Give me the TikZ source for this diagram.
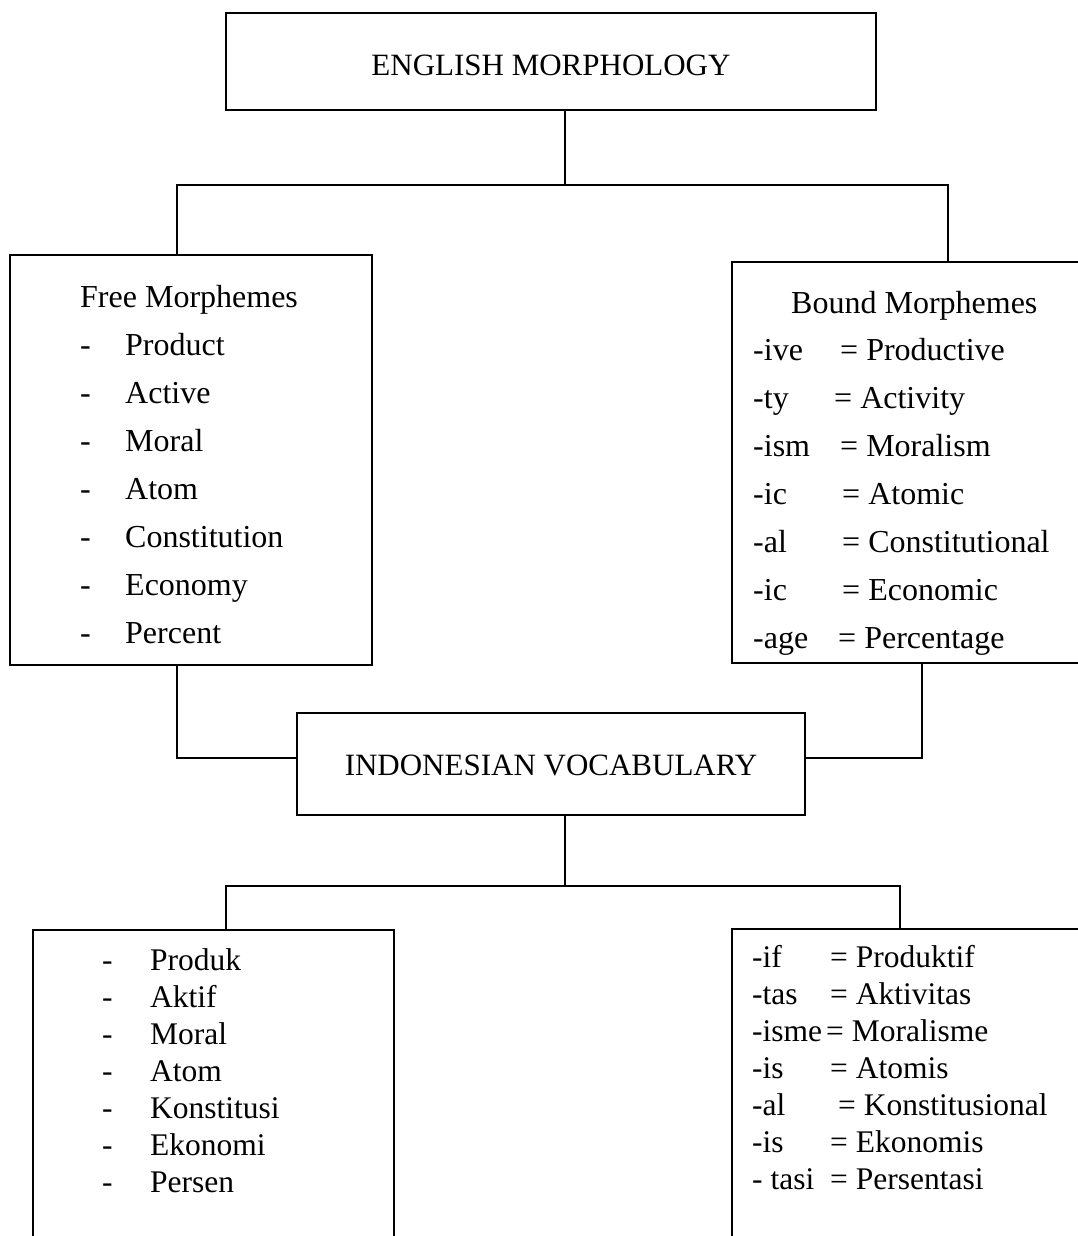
\documentclass[tikz,border=0pt]{standalone}
\usepackage{fontspec}
\setmainfont{Liberation Serif}
\begin{document}
\begin{tikzpicture}[x=1pt,y=-1pt,
  boxshape/.style={draw, rectangle, line width=2.2pt, inner sep=0pt, outer sep=0pt, anchor=north west},
  conn/.style={line width=2.2pt, line join=miter},
  ttl/.style={anchor=base, inner sep=0pt, font=\fontsize{31}{36}\selectfont},
  txt/.style={anchor=base west, inner sep=0pt, font=\fontsize{32}{38}\selectfont},
  stxt/.style={anchor=base west, inner sep=0pt, font=\fontsize{31.5}{37}\selectfont}]
\useasboundingbox (0,0) rectangle (1078,1236);
\fill[white] (0,0) rectangle (1078,1236);
\clip (0,0) rectangle (1078,1236);

% boxes
\node[boxshape, minimum width=650pt, minimum height=97pt] (em) at (226,13) {};
\node[boxshape, minimum width=362pt, minimum height=410pt] (free) at (10,255) {};
\node[boxshape, minimum width=380pt, minimum height=401pt] (bound) at (732,262) {};
\node[boxshape, minimum width=508pt, minimum height=102pt] (indo) at (297,713) {};
\node[boxshape, minimum width=361pt, minimum height=340pt] (idl) at (33,930) {};
\node[boxshape, minimum width=380pt, minimum height=340pt] (idr) at (732,929) {};

% titles
\node[ttl] (emt) at (551,76) {ENGLISH MORPHOLOGY};
\node[ttl] (indot) at (551,775) {INDONESIAN VOCABULARY};

% junctions
\coordinate (j1) at (565,185);
\coordinate (jl) at (177,185);
\coordinate (jr) at (948,185);
\coordinate (ml) at (177,758);
\coordinate (mr) at (922,758);
\coordinate (j2) at (565,886);
\coordinate (bl) at (226,886);
\coordinate (br) at (900,886);

% connectors
\draw[conn] (em.south -| j1) -- (j1);
\draw[conn] (free.north -| jl) -- (jl) -- (jr) -- (bound.north -| jr);
\draw[conn] (free.south -| ml) -- (ml) -- (indo.west |- ml);
\draw[conn] (bound.south -| mr) -- (mr) -- (indo.east |- mr);
\draw[conn] (indo.south -| j2) -- (j2);
\draw[conn] (idl.north -| bl) -- (bl) -- (br) -- (idr.north -| br);

% free morphemes
\node[txt] (fh) at (80,307) {Free Morphemes};
\foreach \w [count=\i from 0] in {Product,Active,Moral,Atom,Constitution,Economy,Percent}{
  \node[txt] (fd\i) at (80,355+48*\i) {-};
  \node[txt] (fw\i) at (125,355+48*\i) {\w};
}

% bound morphemes
\node[txt] (bh) at (791,313) {Bound Morphemes};
\foreach \p/\e/\w [count=\i from 0] in {-ive/840/Productive,-ty/834/Activity,-ism/840/Moralism,-ic/842/Atomic,-al/842/Constitutional,-ic/842/Economic,-age/838/Percentage}{
  \node[txt] (bp\i) at (753,360+48*\i) {\p};
  \node[txt] (bw\i) at (\e,360+48*\i) {= \w};
}

% indonesian free
\foreach \w [count=\i from 0] in {Produk,Aktif,Moral,Atom,Konstitusi,Ekonomi,Persen}{
  \node[stxt] (id\i) at (102,970+37*\i) {-};
  \node[stxt] (iw\i) at (150,970+37*\i) {\w};
}

% indonesian bound
\foreach \p/\e/\w [count=\i from 0] in {-if/830/Produktif,-tas/830/Aktivitas,-isme/826/Moralisme,-is/830/Atomis,-al/838/Konstitusional,-is/830/Ekonomis,- tasi/830/Persentasi}{
  \node[stxt] (rp\i) at (752,967+37*\i) {\p};
  \node[stxt] (rw\i) at (\e,967+37*\i) {= \w};
}
\end{tikzpicture}
\end{document}
